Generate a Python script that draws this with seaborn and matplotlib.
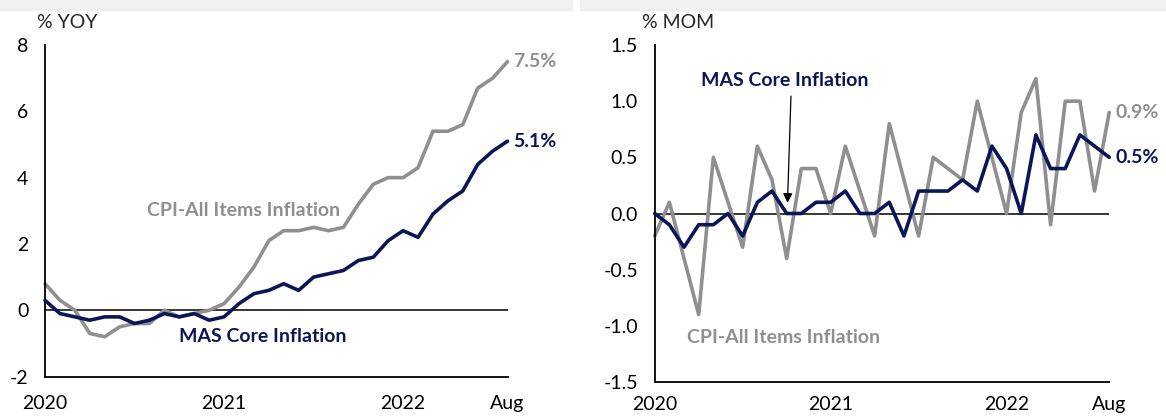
import numpy as np
import pandas as pd
import matplotlib
matplotlib.use("Agg")
import matplotlib.pyplot as plt
import seaborn as sns

# ---- data (Jan 2020 .. Aug 2022) ----
months = pd.date_range("2020-01-01", "2022-08-01", freq="MS").strftime("%Y-%m").tolist()
cpi_yoy = [0.8, 0.3, 0.0, -0.7, -0.8, -0.5, -0.4, -0.4, 0.0, -0.2, -0.1, 0.0,
           0.2, 0.7, 1.3, 2.1, 2.4, 2.4, 2.5, 2.4, 2.5, 3.2, 3.8, 4.0,
           4.0, 4.3, 5.4, 5.4, 5.6, 6.7, 7.0, 7.5]
core_yoy = [0.3, -0.1, -0.2, -0.3, -0.2, -0.2, -0.4, -0.3, -0.1, -0.2, -0.1, -0.3,
            -0.2, 0.2, 0.5, 0.6, 0.8, 0.6, 1.0, 1.1, 1.2, 1.5, 1.6, 2.1,
            2.4, 2.2, 2.9, 3.3, 3.6, 4.4, 4.8, 5.1]
cpi_mom = [-0.2, 0.1, -0.4, -0.9, 0.5, 0.1, -0.3, 0.6, 0.3, -0.4, 0.4, 0.4,
           0.0, 0.6, 0.2, -0.2, 0.8, 0.3, -0.2, 0.5, 0.4, 0.3, 1.0, 0.5,
           0.0, 0.9, 1.2, -0.1, 1.0, 1.0, 0.2, 0.9]
core_mom = [0.0, -0.1, -0.3, -0.1, -0.1, 0.0, -0.2, 0.1, 0.2, 0.0, 0.0, 0.1,
            0.1, 0.2, 0.0, 0.0, 0.1, -0.2, 0.2, 0.2, 0.2, 0.3, 0.2, 0.6,
            0.4, 0.0, 0.7, 0.4, 0.4, 0.7, 0.6, 0.5]
tick_labels = {0: "2020", 12: "2021", 24: "2022", 31: "Aug"}
yoy_ticks = [-2, 0, 2, 4, 6, 8]
mom_ticks = [-1.5, -1.0, -0.5, 0.0, 0.5, 1.0, 1.5]

GRAY = "#8F8F8F"
NAVY = "#0B1657"

sns.set_style("white")
plt.rcParams["font.family"] = ["Lato", "DejaVu Sans"]

idx = np.arange(len(months))
df = pd.DataFrame({"i": idx, "cpi_yoy": cpi_yoy, "core_yoy": core_yoy,
                   "cpi_mom": cpi_mom, "core_mom": core_mom})

fig = plt.figure(figsize=(11.66, 4.17), dpi=100)
fig.patches.append(plt.Rectangle((0, 417 - 10), 572, 10, transform=None,
                                 color="#F0F0F0", zorder=0))
fig.patches.append(plt.Rectangle((580, 417 - 10), 586, 10, transform=None,
                                 color="#F0F0F0", zorder=0))

ax1 = fig.add_axes([0.0386, 0.097, 0.3967, 0.795])
ax2 = fig.add_axes([0.5615, 0.084, 0.3898, 0.808])

TICK_FS = 14
LAB_FS = 14


def style(ax, ylim, yticks, fmt, ylabel, ylab_x, xpad):
    ax.set_xlim(0, 31)
    ax.set_ylim(*ylim)
    ax.axhline(0, color="black", lw=1.1, zorder=1)
    for s in ["top", "right"]:
        ax.spines[s].set_visible(False)
    for s in ["left", "bottom"]:
        ax.spines[s].set_color("black")
        ax.spines[s].set_linewidth(1.3)
    ax.set_xticks(idx)
    ax.set_xticklabels([tick_labels.get(i, "") for i in idx])
    ax.set_yticks(yticks)
    ax.set_yticklabels([fmt.format(v) for v in yticks])
    ax.tick_params(axis="both", direction="out", length=5, width=1.2,
                   color="black", labelsize=TICK_FS, labelcolor="black")
    ax.tick_params(axis="x", pad=xpad)
    ax.tick_params(axis="y", pad=7)
    ax.set_xlabel("")
    ax.set_ylabel("")
    ax.text(ylab_x, 1.068, ylabel, transform=ax.transAxes, fontsize=TICK_FS,
            ha="left", va="center")


for ax, c, n in [(ax1, "cpi_yoy", "core_yoy"), (ax2, "cpi_mom", "core_mom")]:
    sns.lineplot(data=df, x="i", y=c, ax=ax, color=GRAY, lw=2.6, clip_on=False, zorder=2)
    sns.lineplot(data=df, x="i", y=n, ax=ax, color=NAVY, lw=2.6, clip_on=False, zorder=3)

style(ax1, (-2, 8), yoy_ticks, "{:.0f}", "% YOY", -0.018, 8)
style(ax2, (-1.5, 1.5), mom_ticks, "{:.1f}", "% MOM", -0.028, 5)

# Left panel annotations
ax1.text(31.4, cpi_yoy[-1], f"{cpi_yoy[-1]:.1f}%", color=GRAY, fontsize=LAB_FS,
         fontweight="bold", va="center", ha="left", clip_on=False)
ax1.text(31.4, core_yoy[-1], f"{core_yoy[-1]:.1f}%", color=NAVY, fontsize=LAB_FS,
         fontweight="bold", va="center", ha="left", clip_on=False)
ax1.text(13.3, 3.0, "CPI-All Items Inflation", color=GRAY, fontsize=LAB_FS,
         fontweight="bold", ha="center", va="center")
ax1.text(14.6, -0.8, "MAS Core Inflation", color=NAVY, fontsize=LAB_FS,
         fontweight="bold", ha="center", va="center")

# Right panel annotations
ax2.text(31.4, cpi_mom[-1], f"{cpi_mom[-1]:.1f}%", color=GRAY, fontsize=LAB_FS,
         fontweight="bold", va="center", ha="left", clip_on=False)
ax2.text(31.4, core_mom[-1], f"{core_mom[-1]:.1f}%", color=NAVY, fontsize=LAB_FS,
         fontweight="bold", va="center", ha="left", clip_on=False)
ax2.text(8.8, -1.1, "CPI-All Items Inflation", color=GRAY, fontsize=LAB_FS,
         fontweight="bold", ha="center", va="center")
ax2.text(8.9, 1.18, "MAS Core Inflation", color=NAVY, fontsize=LAB_FS,
         fontweight="bold", ha="center", va="center")
ax2.annotate("", xy=(9.05, 0.07), xytext=(9.3, 1.07),
             arrowprops=dict(arrowstyle="-|>", color="black", lw=0.9,
                             mutation_scale=14))

fig.savefig("out.png", dpi=100)
